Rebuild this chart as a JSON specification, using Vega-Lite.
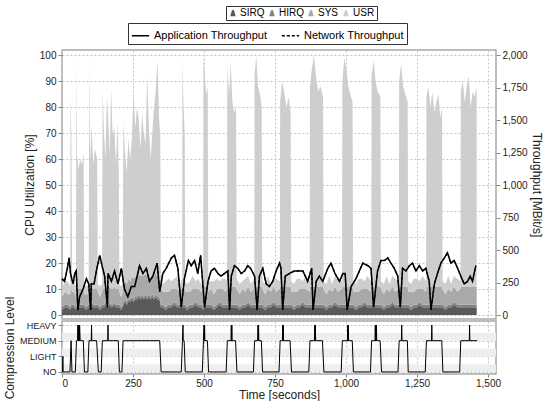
{
"$schema":"https://vega.github.io/schema/vega-lite/v6.json",
"padding":{"left":2,"top":4,"right":0,"bottom":0},
"bounds":"flush",
"datasets":{
"ord":[{"k":"SIRQ","o":1},{"k":"HIRQ","o":2},{"k":"SYS","o":3},{"k":"USR","o":4}],
"cpu":[
{"t":0,"SIRQ":2,"HIRQ":1,"SYS":4,"USR":3},{"t":10,"SIRQ":3,"HIRQ":1,"SYS":5,"USR":4},{"t":20,"SIRQ":3,"HIRQ":1,"SYS":4,"USR":5},{"t":29,"SIRQ":2,"HIRQ":1,"SYS":5,"USR":3},
{"t":30,"SIRQ":3,"HIRQ":1,"SYS":6,"USR":73},{"t":33,"SIRQ":3,"HIRQ":1,"SYS":6,"USR":60},{"t":36,"SIRQ":3,"HIRQ":1,"SYS":5,"USR":3},{"t":42,"SIRQ":3,"HIRQ":1,"SYS":5,"USR":4},{"t":49,"SIRQ":2,"HIRQ":1,"SYS":4,"USR":4},
{"t":51,"SIRQ":3,"HIRQ":1,"SYS":6,"USR":88},{"t":53,"SIRQ":3,"HIRQ":1,"SYS":6,"USR":52},{"t":58,"SIRQ":3,"HIRQ":1,"SYS":6,"USR":46},{"t":64,"SIRQ":3,"HIRQ":1,"SYS":6,"USR":50},{"t":70,"SIRQ":3,"HIRQ":1,"SYS":6,"USR":48},{"t":76,"SIRQ":3,"HIRQ":1,"SYS":6,"USR":52},
{"t":78,"SIRQ":3,"HIRQ":1,"SYS":4,"USR":4},{"t":85,"SIRQ":2,"HIRQ":1,"SYS":5,"USR":3},{"t":94,"SIRQ":3,"HIRQ":1,"SYS":4,"USR":4},
{"t":96,"SIRQ":3,"HIRQ":1,"SYS":6,"USR":88},{"t":99,"SIRQ":3,"HIRQ":1,"SYS":6,"USR":50},{"t":104,"SIRQ":4,"HIRQ":1,"SYS":6,"USR":62},{"t":110,"SIRQ":3,"HIRQ":1,"SYS":6,"USR":48},{"t":116,"SIRQ":3,"HIRQ":1,"SYS":6,"USR":54},{"t":124,"SIRQ":3,"HIRQ":1,"SYS":6,"USR":50},
{"t":126,"SIRQ":3,"HIRQ":1,"SYS":5,"USR":3},{"t":134,"SIRQ":2,"HIRQ":1,"SYS":4,"USR":4},{"t":141,"SIRQ":3,"HIRQ":1,"SYS":5,"USR":3},
{"t":143,"SIRQ":3,"HIRQ":1,"SYS":6,"USR":76},{"t":148,"SIRQ":3,"HIRQ":1,"SYS":6,"USR":60},{"t":153,"SIRQ":4,"HIRQ":1,"SYS":6,"USR":49},{"t":158,"SIRQ":3,"HIRQ":1,"SYS":6,"USR":74},{"t":163,"SIRQ":3,"HIRQ":1,"SYS":6,"USR":65},{"t":168,"SIRQ":4,"HIRQ":1,"SYS":6,"USR":51},{"t":173,"SIRQ":3,"HIRQ":1,"SYS":6,"USR":77},{"t":178,"SIRQ":3,"HIRQ":1,"SYS":6,"USR":60},{"t":184,"SIRQ":4,"HIRQ":1,"SYS":6,"USR":61},{"t":190,"SIRQ":3,"HIRQ":1,"SYS":6,"USR":48},{"t":196,"SIRQ":3,"HIRQ":1,"SYS":6,"USR":64},{"t":200,"SIRQ":3,"HIRQ":1,"SYS":6,"USR":45},
{"t":202,"SIRQ":3,"HIRQ":1,"SYS":5,"USR":3},{"t":208,"SIRQ":2,"HIRQ":1,"SYS":4,"USR":4},{"t":214,"SIRQ":3,"HIRQ":1,"SYS":5,"USR":3},
{"t":216,"SIRQ":4,"HIRQ":1,"SYS":7,"USR":62},{"t":222,"SIRQ":5,"HIRQ":1,"SYS":7,"USR":49},{"t":228,"SIRQ":4,"HIRQ":1,"SYS":7,"USR":43},{"t":234,"SIRQ":5,"HIRQ":1,"SYS":8,"USR":54},{"t":240,"SIRQ":5,"HIRQ":1,"SYS":7,"USR":47},{"t":246,"SIRQ":6,"HIRQ":1,"SYS":8,"USR":53},{"t":252,"SIRQ":5,"HIRQ":1,"SYS":8,"USR":72},{"t":258,"SIRQ":6,"HIRQ":1,"SYS":8,"USR":57},{"t":264,"SIRQ":6,"HIRQ":1,"SYS":7,"USR":66},{"t":270,"SIRQ":7,"HIRQ":1,"SYS":8,"USR":60},{"t":276,"SIRQ":6,"HIRQ":1,"SYS":8,"USR":49},{"t":282,"SIRQ":7,"HIRQ":1,"SYS":7,"USR":63},{"t":288,"SIRQ":6,"HIRQ":1,"SYS":8,"USR":55},{"t":294,"SIRQ":7,"HIRQ":1,"SYS":8,"USR":50},{"t":300,"SIRQ":6,"HIRQ":1,"SYS":8,"USR":77},{"t":306,"SIRQ":7,"HIRQ":1,"SYS":8,"USR":56},{"t":312,"SIRQ":6,"HIRQ":1,"SYS":7,"USR":46},{"t":318,"SIRQ":7,"HIRQ":1,"SYS":8,"USR":54},{"t":324,"SIRQ":6,"HIRQ":1,"SYS":8,"USR":65},{"t":330,"SIRQ":7,"HIRQ":1,"SYS":8,"USR":70},{"t":336,"SIRQ":6,"HIRQ":1,"SYS":8,"USR":83},{"t":342,"SIRQ":6,"HIRQ":1,"SYS":7,"USR":61},{"t":346,"SIRQ":5,"HIRQ":1,"SYS":7,"USR":57},
{"t":348,"SIRQ":3,"HIRQ":1,"SYS":6,"USR":4},{"t":355,"SIRQ":3,"HIRQ":1,"SYS":5,"USR":3},{"t":365,"SIRQ":2,"HIRQ":1,"SYS":6,"USR":4},{"t":375,"SIRQ":3,"HIRQ":1,"SYS":5,"USR":5},{"t":385,"SIRQ":3,"HIRQ":1,"SYS":6,"USR":3},{"t":395,"SIRQ":4,"HIRQ":1,"SYS":5,"USR":4},{"t":405,"SIRQ":3,"HIRQ":1,"SYS":6,"USR":5},{"t":415,"SIRQ":3,"HIRQ":1,"SYS":5,"USR":3},{"t":423,"SIRQ":3,"HIRQ":1,"SYS":6,"USR":4},
{"t":424,"SIRQ":3,"HIRQ":1,"SYS":6,"USR":88},{"t":428,"SIRQ":3,"HIRQ":1,"SYS":6,"USR":70},{"t":432,"SIRQ":3,"HIRQ":1,"SYS":6,"USR":60},
{"t":434,"SIRQ":3,"HIRQ":1,"SYS":5,"USR":4},{"t":440,"SIRQ":2,"HIRQ":1,"SYS":6,"USR":3},{"t":450,"SIRQ":3,"HIRQ":1,"SYS":5,"USR":4},{"t":460,"SIRQ":3,"HIRQ":1,"SYS":6,"USR":5},{"t":470,"SIRQ":4,"HIRQ":1,"SYS":5,"USR":3},{"t":480,"SIRQ":3,"HIRQ":1,"SYS":6,"USR":4},{"t":490,"SIRQ":3,"HIRQ":1,"SYS":5,"USR":3},{"t":497,"SIRQ":2,"HIRQ":1,"SYS":6,"USR":4},
{"t":498,"SIRQ":3,"HIRQ":1,"SYS":7,"USR":89},{"t":503,"SIRQ":3,"HIRQ":1,"SYS":7,"USR":81},{"t":508,"SIRQ":3,"HIRQ":1,"SYS":7,"USR":74},{"t":513,"SIRQ":3,"HIRQ":1,"SYS":7,"USR":77},
{"t":515,"SIRQ":3,"HIRQ":1,"SYS":5,"USR":4},{"t":525,"SIRQ":3,"HIRQ":1,"SYS":6,"USR":3},{"t":535,"SIRQ":2,"HIRQ":1,"SYS":5,"USR":5},{"t":545,"SIRQ":3,"HIRQ":1,"SYS":6,"USR":4},{"t":555,"SIRQ":4,"HIRQ":1,"SYS":5,"USR":3},{"t":565,"SIRQ":3,"HIRQ":1,"SYS":6,"USR":4},{"t":575,"SIRQ":3,"HIRQ":1,"SYS":5,"USR":5},{"t":581,"SIRQ":3,"HIRQ":1,"SYS":6,"USR":3},
{"t":582,"SIRQ":3,"HIRQ":1,"SYS":7,"USR":85},{"t":588,"SIRQ":3,"HIRQ":1,"SYS":7,"USR":74},{"t":594,"SIRQ":3,"HIRQ":1,"SYS":7,"USR":86},{"t":600,"SIRQ":3,"HIRQ":1,"SYS":7,"USR":71},{"t":606,"SIRQ":3,"HIRQ":1,"SYS":7,"USR":67},{"t":613,"SIRQ":3,"HIRQ":1,"SYS":7,"USR":69},
{"t":615,"SIRQ":3,"HIRQ":1,"SYS":6,"USR":4},{"t":625,"SIRQ":2,"HIRQ":1,"SYS":5,"USR":4},{"t":635,"SIRQ":3,"HIRQ":1,"SYS":6,"USR":3},{"t":645,"SIRQ":3,"HIRQ":1,"SYS":5,"USR":5},{"t":655,"SIRQ":4,"HIRQ":1,"SYS":6,"USR":4},{"t":665,"SIRQ":3,"HIRQ":1,"SYS":5,"USR":3},{"t":677,"SIRQ":3,"HIRQ":1,"SYS":6,"USR":4},
{"t":678,"SIRQ":3,"HIRQ":1,"SYS":7,"USR":81},{"t":684,"SIRQ":3,"HIRQ":1,"SYS":7,"USR":89},{"t":690,"SIRQ":3,"HIRQ":1,"SYS":7,"USR":77},{"t":697,"SIRQ":3,"HIRQ":1,"SYS":7,"USR":74},{"t":703,"SIRQ":3,"HIRQ":1,"SYS":7,"USR":69},
{"t":705,"SIRQ":3,"HIRQ":1,"SYS":6,"USR":3},{"t":715,"SIRQ":2,"HIRQ":1,"SYS":5,"USR":4},{"t":725,"SIRQ":3,"HIRQ":1,"SYS":6,"USR":5},{"t":735,"SIRQ":3,"HIRQ":1,"SYS":5,"USR":3},{"t":745,"SIRQ":4,"HIRQ":1,"SYS":6,"USR":4},{"t":755,"SIRQ":3,"HIRQ":1,"SYS":5,"USR":5},{"t":767,"SIRQ":3,"HIRQ":1,"SYS":6,"USR":3},
{"t":768,"SIRQ":3,"HIRQ":1,"SYS":7,"USR":71},{"t":775,"SIRQ":3,"HIRQ":1,"SYS":7,"USR":79},{"t":782,"SIRQ":3,"HIRQ":1,"SYS":7,"USR":75},{"t":790,"SIRQ":3,"HIRQ":1,"SYS":7,"USR":69},{"t":798,"SIRQ":3,"HIRQ":1,"SYS":7,"USR":73},{"t":805,"SIRQ":3,"HIRQ":1,"SYS":7,"USR":67},
{"t":807,"SIRQ":3,"HIRQ":1,"SYS":5,"USR":4},{"t":817,"SIRQ":2,"HIRQ":1,"SYS":6,"USR":3},{"t":827,"SIRQ":3,"HIRQ":1,"SYS":5,"USR":5},{"t":837,"SIRQ":3,"HIRQ":1,"SYS":6,"USR":4},{"t":847,"SIRQ":4,"HIRQ":1,"SYS":5,"USR":3},{"t":857,"SIRQ":3,"HIRQ":1,"SYS":6,"USR":5},{"t":872,"SIRQ":3,"HIRQ":1,"SYS":5,"USR":4},
{"t":873,"SIRQ":3,"HIRQ":1,"SYS":7,"USR":77},{"t":880,"SIRQ":3,"HIRQ":1,"SYS":7,"USR":84},{"t":887,"SIRQ":3,"HIRQ":1,"SYS":7,"USR":89},{"t":894,"SIRQ":3,"HIRQ":1,"SYS":7,"USR":81},{"t":902,"SIRQ":3,"HIRQ":1,"SYS":7,"USR":75},{"t":910,"SIRQ":3,"HIRQ":1,"SYS":7,"USR":77},{"t":919,"SIRQ":3,"HIRQ":1,"SYS":7,"USR":73},
{"t":921,"SIRQ":3,"HIRQ":1,"SYS":6,"USR":3},{"t":931,"SIRQ":2,"HIRQ":1,"SYS":5,"USR":4},{"t":941,"SIRQ":3,"HIRQ":1,"SYS":6,"USR":5},{"t":951,"SIRQ":3,"HIRQ":1,"SYS":5,"USR":3},{"t":961,"SIRQ":4,"HIRQ":1,"SYS":6,"USR":4},{"t":971,"SIRQ":3,"HIRQ":1,"SYS":5,"USR":5},{"t":986,"SIRQ":3,"HIRQ":1,"SYS":6,"USR":3},
{"t":987,"SIRQ":3,"HIRQ":1,"SYS":7,"USR":79},{"t":994,"SIRQ":3,"HIRQ":1,"SYS":7,"USR":88},{"t":1001,"SIRQ":3,"HIRQ":1,"SYS":7,"USR":84},{"t":1008,"SIRQ":3,"HIRQ":1,"SYS":7,"USR":77},{"t":1015,"SIRQ":3,"HIRQ":1,"SYS":7,"USR":74},{"t":1023,"SIRQ":3,"HIRQ":1,"SYS":7,"USR":71},
{"t":1025,"SIRQ":3,"HIRQ":1,"SYS":5,"USR":4},{"t":1035,"SIRQ":2,"HIRQ":1,"SYS":6,"USR":3},{"t":1045,"SIRQ":3,"HIRQ":1,"SYS":5,"USR":5},{"t":1055,"SIRQ":3,"HIRQ":1,"SYS":6,"USR":4},{"t":1065,"SIRQ":4,"HIRQ":1,"SYS":5,"USR":3},{"t":1075,"SIRQ":3,"HIRQ":1,"SYS":6,"USR":5},{"t":1089,"SIRQ":3,"HIRQ":1,"SYS":5,"USR":4},
{"t":1090,"SIRQ":3,"HIRQ":1,"SYS":7,"USR":81},{"t":1097,"SIRQ":3,"HIRQ":1,"SYS":7,"USR":87},{"t":1104,"SIRQ":3,"HIRQ":1,"SYS":7,"USR":79},{"t":1111,"SIRQ":3,"HIRQ":1,"SYS":7,"USR":75},{"t":1121,"SIRQ":3,"HIRQ":1,"SYS":7,"USR":73},
{"t":1123,"SIRQ":3,"HIRQ":1,"SYS":6,"USR":3},{"t":1133,"SIRQ":2,"HIRQ":1,"SYS":5,"USR":4},{"t":1143,"SIRQ":3,"HIRQ":1,"SYS":6,"USR":5},{"t":1153,"SIRQ":3,"HIRQ":1,"SYS":5,"USR":3},{"t":1163,"SIRQ":4,"HIRQ":1,"SYS":6,"USR":4},{"t":1173,"SIRQ":3,"HIRQ":1,"SYS":5,"USR":5},{"t":1186,"SIRQ":3,"HIRQ":1,"SYS":6,"USR":3},
{"t":1187,"SIRQ":3,"HIRQ":1,"SYS":7,"USR":79},{"t":1194,"SIRQ":3,"HIRQ":1,"SYS":7,"USR":86},{"t":1201,"SIRQ":3,"HIRQ":1,"SYS":7,"USR":77},{"t":1209,"SIRQ":3,"HIRQ":1,"SYS":7,"USR":74},{"t":1217,"SIRQ":3,"HIRQ":1,"SYS":7,"USR":71},
{"t":1219,"SIRQ":3,"HIRQ":1,"SYS":5,"USR":4},{"t":1229,"SIRQ":2,"HIRQ":1,"SYS":6,"USR":3},{"t":1239,"SIRQ":3,"HIRQ":1,"SYS":5,"USR":5},{"t":1249,"SIRQ":3,"HIRQ":1,"SYS":6,"USR":4},{"t":1259,"SIRQ":4,"HIRQ":1,"SYS":5,"USR":3},{"t":1269,"SIRQ":3,"HIRQ":1,"SYS":6,"USR":5},{"t":1282,"SIRQ":3,"HIRQ":1,"SYS":5,"USR":4},
{"t":1283,"SIRQ":3,"HIRQ":1,"SYS":7,"USR":73},{"t":1290,"SIRQ":3,"HIRQ":1,"SYS":7,"USR":77},{"t":1297,"SIRQ":3,"HIRQ":1,"SYS":7,"USR":69},{"t":1304,"SIRQ":3,"HIRQ":1,"SYS":7,"USR":75},{"t":1311,"SIRQ":3,"HIRQ":1,"SYS":7,"USR":67},{"t":1318,"SIRQ":3,"HIRQ":1,"SYS":7,"USR":71},{"t":1325,"SIRQ":3,"HIRQ":1,"SYS":7,"USR":74},{"t":1332,"SIRQ":3,"HIRQ":1,"SYS":7,"USR":65},{"t":1338,"SIRQ":3,"HIRQ":1,"SYS":7,"USR":69},
{"t":1340,"SIRQ":3,"HIRQ":1,"SYS":6,"USR":3},{"t":1350,"SIRQ":2,"HIRQ":1,"SYS":5,"USR":4},{"t":1360,"SIRQ":3,"HIRQ":1,"SYS":6,"USR":5},{"t":1370,"SIRQ":3,"HIRQ":1,"SYS":5,"USR":3},{"t":1380,"SIRQ":4,"HIRQ":1,"SYS":6,"USR":4},{"t":1392,"SIRQ":3,"HIRQ":1,"SYS":5,"USR":5},{"t":1403,"SIRQ":3,"HIRQ":1,"SYS":6,"USR":3},
{"t":1404,"SIRQ":3,"HIRQ":1,"SYS":7,"USR":75},{"t":1411,"SIRQ":3,"HIRQ":1,"SYS":7,"USR":79},{"t":1418,"SIRQ":3,"HIRQ":1,"SYS":7,"USR":71},{"t":1425,"SIRQ":3,"HIRQ":1,"SYS":7,"USR":77},{"t":1432,"SIRQ":3,"HIRQ":1,"SYS":7,"USR":81},{"t":1439,"SIRQ":3,"HIRQ":1,"SYS":7,"USR":69},{"t":1446,"SIRQ":3,"HIRQ":1,"SYS":7,"USR":75},{"t":1453,"SIRQ":3,"HIRQ":1,"SYS":7,"USR":73},{"t":1460,"SIRQ":3,"HIRQ":1,"SYS":7,"USR":77}
],
"thr":[
{"t":0,"app":280,"net":280},{"t":9,"app":260,"net":260},{"t":19,"app":360,"net":360},{"t":25,"app":440,"net":440},{"t":30,"app":320,"net":320},{"t":39,"app":240,"net":240},{"t":45,"app":320,"net":320},{"t":50,"app":340,"net":340},{"t":56,"app":40,"net":40},{"t":62,"app":140,"net":140},{"t":74,"app":200,"net":200},{"t":86,"app":280,"net":280},{"t":94,"app":240,"net":240},{"t":101,"app":40,"net":40},{"t":103,"app":240,"net":240},{"t":113,"app":240,"net":240},{"t":121,"app":340,"net":340},{"t":133,"app":460,"net":460},{"t":141,"app":380,"net":380},{"t":150,"app":300,"net":300},{"t":160,"app":60,"net":60},{"t":162,"app":320,"net":320},{"t":174,"app":260,"net":260},{"t":185,"app":340,"net":340},{"t":197,"app":240,"net":240},{"t":209,"app":360,"net":360},{"t":220,"app":200,"net":200},{"t":232,"app":140,"net":140},{"t":244,"app":220,"net":220},{"t":256,"app":220,"net":220},{"t":273,"app":380,"net":380},{"t":285,"app":320,"net":320},{"t":297,"app":360,"net":360},{"t":308,"app":260,"net":260},{"t":320,"app":300,"net":300},{"t":335,"app":400,"net":400},{"t":344,"app":180,"net":180},{"t":355,"app":320,"net":320},{"t":367,"app":360,"net":360},{"t":385,"app":440,"net":440},{"t":396,"app":460,"net":460},{"t":408,"app":360,"net":360},{"t":420,"app":60,"net":60},{"t":431,"app":280,"net":280},{"t":445,"app":420,"net":420},{"t":455,"app":380,"net":380},{"t":467,"app":420,"net":420},{"t":478,"app":320,"net":320},{"t":488,"app":460,"net":460},{"t":502,"app":60,"net":60},{"t":514,"app":260,"net":260},{"t":525,"app":340,"net":340},{"t":537,"app":360,"net":360},{"t":549,"app":320,"net":320},{"t":560,"app":300,"net":300},{"t":572,"app":320,"net":320},{"t":584,"app":340,"net":340},{"t":590,"app":40,"net":40},{"t":596,"app":300,"net":300},{"t":607,"app":380,"net":380},{"t":619,"app":360,"net":360},{"t":631,"app":320,"net":320},{"t":643,"app":340,"net":340},{"t":654,"app":380,"net":380},{"t":664,"app":360,"net":360},{"t":678,"app":300,"net":300},{"t":687,"app":40,"net":40},{"t":695,"app":300,"net":300},{"t":707,"app":360,"net":360},{"t":719,"app":240,"net":240},{"t":730,"app":220,"net":220},{"t":742,"app":260,"net":260},{"t":754,"app":340,"net":340},{"t":766,"app":400,"net":400},{"t":771,"app":360,"net":360},{"t":777,"app":40,"net":40},{"t":786,"app":300,"net":300},{"t":801,"app":320,"net":320},{"t":818,"app":340,"net":340},{"t":836,"app":340,"net":340},{"t":848,"app":340,"net":340},{"t":865,"app":260,"net":260},{"t":879,"app":360,"net":360},{"t":884,"app":40,"net":40},{"t":895,"app":260,"net":260},{"t":906,"app":300,"net":300},{"t":918,"app":260,"net":260},{"t":936,"app":360,"net":360},{"t":947,"app":400,"net":400},{"t":961,"app":320,"net":320},{"t":977,"app":260,"net":260},{"t":989,"app":320,"net":320},{"t":997,"app":320,"net":320},{"t":1004,"app":40,"net":40},{"t":1018,"app":220,"net":220},{"t":1035,"app":280,"net":280},{"t":1047,"app":340,"net":340},{"t":1059,"app":400,"net":400},{"t":1077,"app":380,"net":380},{"t":1088,"app":360,"net":360},{"t":1097,"app":60,"net":60},{"t":1111,"app":340,"net":340},{"t":1123,"app":420,"net":420},{"t":1135,"app":420,"net":420},{"t":1147,"app":440,"net":440},{"t":1158,"app":400,"net":400},{"t":1170,"app":360,"net":360},{"t":1182,"app":300,"net":300},{"t":1191,"app":60,"net":60},{"t":1199,"app":360,"net":360},{"t":1211,"app":340,"net":340},{"t":1223,"app":380,"net":380},{"t":1234,"app":400,"net":400},{"t":1246,"app":340,"net":340},{"t":1258,"app":380,"net":380},{"t":1270,"app":340,"net":340},{"t":1281,"app":360,"net":360},{"t":1293,"app":260,"net":260},{"t":1299,"app":40,"net":40},{"t":1311,"app":240,"net":240},{"t":1322,"app":320,"net":320},{"t":1334,"app":400,"net":400},{"t":1346,"app":440,"net":440},{"t":1357,"app":480,"net":480},{"t":1369,"app":400,"net":400},{"t":1381,"app":420,"net":420},{"t":1393,"app":360,"net":360},{"t":1404,"app":300,"net":300},{"t":1416,"app":240,"net":240},{"t":1428,"app":260,"net":260},{"t":1437,"app":300,"net":300},{"t":1445,"app":260,"net":260},{"t":1457,"app":380,"net":380}
],
"comp":[
{"t":0,"lvl":0},{"t":2,"lvl":0},{"t":3,"lvl":1},{"t":4,"lvl":0},{"t":28,"lvl":0},{"t":32,"lvl":2},{"t":35,"lvl":0},
{"t":47,"lvl":0},{"t":51,"lvl":2},{"t":55,"lvl":2},{"t":56,"lvl":3},{"t":57,"lvl":2},{"t":58,"lvl":3},{"t":59,"lvl":2},{"t":60,"lvl":3},{"t":61,"lvl":2},{"t":62,"lvl":3},{"t":64,"lvl":2},{"t":75,"lvl":2},{"t":79,"lvl":0},
{"t":91,"lvl":0},{"t":95,"lvl":2},{"t":103,"lvl":2},{"t":104,"lvl":3},{"t":105,"lvl":2},{"t":122,"lvl":2},{"t":128,"lvl":0},
{"t":138,"lvl":0},{"t":142,"lvl":2},{"t":161,"lvl":2},{"t":162,"lvl":3},{"t":163,"lvl":2},{"t":198,"lvl":2},{"t":202,"lvl":0},
{"t":211,"lvl":0},{"t":215,"lvl":2},{"t":344,"lvl":2},{"t":349,"lvl":0},
{"t":420,"lvl":0},{"t":424,"lvl":2},{"t":426,"lvl":3},{"t":427,"lvl":2},{"t":430,"lvl":2},{"t":434,"lvl":0},
{"t":494,"lvl":0},{"t":498,"lvl":2},{"t":500,"lvl":3},{"t":501,"lvl":2},{"t":502,"lvl":3},{"t":503,"lvl":2},{"t":512,"lvl":2},{"t":516,"lvl":0},
{"t":578,"lvl":0},{"t":582,"lvl":2},{"t":595,"lvl":2},{"t":596,"lvl":3},{"t":597,"lvl":2},{"t":598,"lvl":3},{"t":599,"lvl":2},{"t":611,"lvl":2},{"t":616,"lvl":0},
{"t":674,"lvl":0},{"t":678,"lvl":2},{"t":689,"lvl":2},{"t":690,"lvl":3},{"t":691,"lvl":2},{"t":692,"lvl":3},{"t":693,"lvl":2},{"t":702,"lvl":2},{"t":706,"lvl":0},
{"t":764,"lvl":0},{"t":768,"lvl":2},{"t":776,"lvl":2},{"t":777,"lvl":3},{"t":778,"lvl":2},{"t":779,"lvl":3},{"t":780,"lvl":2},{"t":803,"lvl":2},{"t":808,"lvl":0},
{"t":869,"lvl":0},{"t":873,"lvl":2},{"t":889,"lvl":2},{"t":890,"lvl":3},{"t":891,"lvl":2},{"t":892,"lvl":3},{"t":893,"lvl":2},{"t":917,"lvl":2},{"t":922,"lvl":0},
{"t":983,"lvl":0},{"t":987,"lvl":2},{"t":1005,"lvl":2},{"t":1006,"lvl":3},{"t":1007,"lvl":2},{"t":1008,"lvl":3},{"t":1009,"lvl":2},{"t":1022,"lvl":2},{"t":1026,"lvl":0},
{"t":1086,"lvl":0},{"t":1090,"lvl":2},{"t":1102,"lvl":2},{"t":1103,"lvl":3},{"t":1104,"lvl":2},{"t":1105,"lvl":3},{"t":1106,"lvl":2},{"t":1107,"lvl":3},{"t":1108,"lvl":2},{"t":1120,"lvl":2},{"t":1125,"lvl":0},
{"t":1183,"lvl":0},{"t":1187,"lvl":2},{"t":1195,"lvl":2},{"t":1196,"lvl":3},{"t":1197,"lvl":2},{"t":1216,"lvl":2},{"t":1219,"lvl":0},
{"t":1279,"lvl":0},{"t":1283,"lvl":2},{"t":1301,"lvl":2},{"t":1302,"lvl":3},{"t":1303,"lvl":2},{"t":1337,"lvl":2},{"t":1341,"lvl":0},
{"t":1400,"lvl":0},{"t":1404,"lvl":2},{"t":1434,"lvl":2},{"t":1435,"lvl":3},{"t":1436,"lvl":2},{"t":1462,"lvl":2}
],
"bands":[{"lo":0,"hi":0.5},{"lo":1,"hi":1.5},{"lo":2,"hi":2.5}]
},
"config":{
"font":"Liberation Sans",
"view":{"stroke":"#a8a8a8","strokeWidth":1.5},
"axis":{"labelFontSize":10,"titleFontSize":12,"titleFontWeight":"normal","labelColor":"#222","titleColor":"#222","gridDash":[2,2],"gridColor":"#c4c4c4","domain":false,"tickColor":"#888","tickSize":4,"labelPadding":2,"titlePadding":3}
},
"spacing":2,
"resolve":{"scale":{"color":"independent","strokeDash":"independent"},"legend":{"color":"independent","strokeDash":"independent"}},
"vconcat":[
{
"width":434,"height":269,
"layer":[
{
"data":{"name":"cpu"},
"transform":[{"fold":["SIRQ","HIRQ","SYS","USR"],"as":["k","v"]},{"lookup":"k","from":{"data":{"name":"ord"},"key":"k","fields":["o"]}}],
"mark":{"type":"area","interpolate":"linear"},
"encoding":{
"x":{"field":"t","type":"quantitative","scale":{"domain":[0,1528],"nice":false,"zero":false},"axis":{"values":[0,250,500,750,1000,1250,1500],"labels":false,"ticks":false,"title":null,"grid":true,"minExtent":0,"maxExtent":0}},
"y":{"field":"v","type":"quantitative","stack":"zero","scale":{"domain":[-1.5,102],"nice":false,"zero":false},"axis":{"values":[0,10,20,30,40,50,60,70,80,90,100],"title":"CPU Utilization [%]","grid":true}},
"color":{"field":"k","type":"nominal","scale":{"domain":["SIRQ","HIRQ","SYS","USR"],"range":["#5a5a5a","#828282","#a9a9a9","#cecece"]},
"legend":{"orient":"none","legendX":164,"legendY":-44,"direction":"horizontal","title":null,"symbolType":"M-1,1C-0.6,1 -0.5,-1 0,-1C0.5,-1 0.6,1 1,1Z","symbolSize":45,"labelFontSize":10,"labelOffset":2,"columnPadding":2,"padding":2,"strokeColor":"#333","fillColor":"#fff","symbolStrokeWidth":0}},
"order":{"field":"o","type":"quantitative","sort":"ascending"}
}
},
{
"data":{"name":"thr"},
"layer":[
{"mark":{"type":"line","color":"#000","strokeWidth":1.2},
"encoding":{
"x":{"field":"t","type":"quantitative"},
"y":{"field":"net","type":"quantitative","scale":{"domain":[-30,2040],"nice":false,"zero":false},"axis":{"orient":"right","values":[0,250,500,750,1000,1250,1500,1750,2000],"format":",.0f","title":"Throughput [MBit/s]","grid":false,"titlePadding":2}},
"strokeDash":{"datum":"Network Throughput","type":"nominal","scale":{"domain":["Application Throughput","Network Throughput"],"range":[[1,0],[3,2]]},
"legend":{"orient":"none","legendX":66,"legendY":-27,"direction":"horizontal","title":null,"symbolType":"stroke","symbolSize":300,"symbolStrokeWidth":1.5,"symbolStrokeColor":"#000","labelFontSize":11,"columnPadding":10,"padding":3,"strokeColor":"#333","fillColor":"#fff"}}
}},
{"mark":{"type":"line","color":"#000","strokeWidth":1.5},
"encoding":{
"x":{"field":"t","type":"quantitative"},
"y":{"field":"app","type":"quantitative","axis":{"orient":"right","values":[0,250,500,750,1000,1250,1500,1750,2000],"format":",.0f","title":"Throughput [MBit/s]","grid":false,"titlePadding":2}},
"strokeDash":{"datum":"Application Throughput","type":"nominal"}
}}
]
}
],
"resolve":{"scale":{"y":"independent"}}
},
{
"width":434,"height":53,
"layer":[
{"data":{"name":"bands"},
"mark":{"type":"rect","color":"#eeeeee"},
"encoding":{
"x":{"datum":0,"type":"quantitative","scale":{"domain":[0,1528],"nice":false,"zero":false},"axis":{"values":[0,250,500,750,1000,1250,1500],"format":",.0f","title":"Time [seconds]","grid":true,"tickSize":3,"labelPadding":1,"titlePadding":1}},
"x2":{"datum":1528},
"y":{"field":"lo","type":"quantitative","scale":{"domain":[-0.13,3.26],"nice":false,"zero":false},"axis":{"values":[0,1,2,3],"labelFontSize":9,"labelExpr":"datum.value==3?'HEAVY':datum.value==2?'MEDIUM':datum.value==1?'LIGHT':'NO'","title":"Compression Level","grid":true}},
"y2":{"field":"hi"}
}},
{"data":{"name":"comp"},
"mark":{"type":"line","color":"#000","strokeWidth":1},
"encoding":{
"x":{"field":"t","type":"quantitative","axis":{"values":[0,250,500,750,1000,1250,1500],"format":",.0f","title":"Time [seconds]","grid":true,"tickSize":3,"labelPadding":1,"titlePadding":1}},
"y":{"field":"lvl","type":"quantitative","axis":{"values":[0,1,2,3],"labelFontSize":9,"labelExpr":"datum.value==3?'HEAVY':datum.value==2?'MEDIUM':datum.value==1?'LIGHT':'NO'","title":"Compression Level","grid":true}}
}}
]
}
]
}
